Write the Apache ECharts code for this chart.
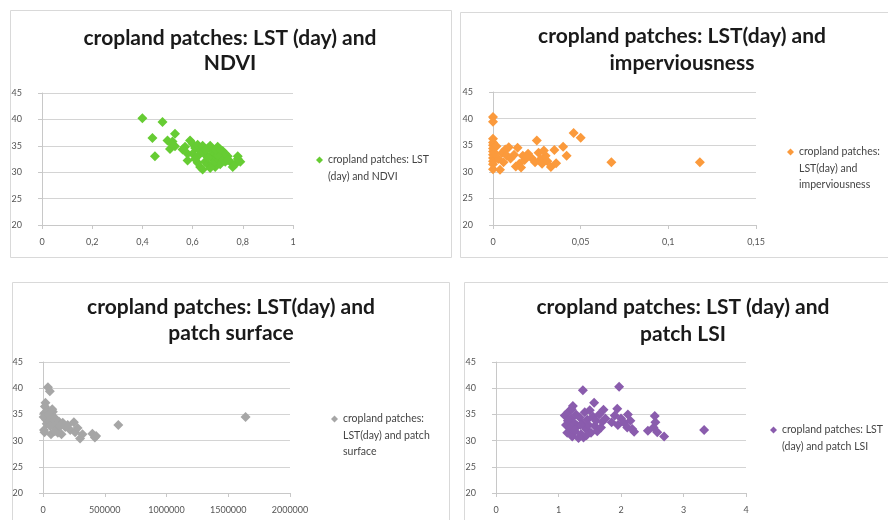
<!DOCTYPE html>
<html>
<head>
<meta charset="utf-8">
<script src="https://cdn.jsdelivr.net/npm/echarts@6/dist/echarts.min.js"></script>
<style>
html,body{margin:0;padding:0;background:#fff;}
#c{width:888px;height:520px;}
</style>
</head>
<body>
<div id="c"></div>
<script>
// ---- Data ----
const titles = [
  ['cropland patches: LST (day) and', 'NDVI'],
  ['cropland patches: LST(day) and', 'imperviousness'],
  ['cropland patches: LST(day) and', 'patch surface'],
  ['cropland patches: LST (day) and', 'patch LSI']
];
const seriesNames = [
  'cropland patches: LST (day) and NDVI',
  'cropland patches: LST(day) and imperviousness',
  'cropland patches: LST(day) and patch surface',
  'cropland patches: LST (day) and patch LSI'
];
const legendLines = [
  ['cropland patches: LST', '(day) and NDVI'],
  ['cropland patches:', 'LST(day) and', 'imperviousness'],
  ['cropland patches:', 'LST(day) and patch', 'surface'],
  ['cropland patches: LST', '(day) and patch LSI']
];
const yTicks = [20, 25, 30, 35, 40, 45];
const xTicks1 = [0, 0.2, 0.4, 0.6, 0.8, 1];
const xTicks2 = [0, 0.05, 0.1, 0.15];
const xTicks3 = [0, 500000, 1000000, 1500000, 2000000];
const xTicks4 = [0, 1, 2, 3, 4];

const ndviData = [
  [0.40,40.2],[0.48,39.5],[0.44,36.5],[0.45,33.0],[0.53,37.3],[0.50,36.0],[0.52,35.8],[0.51,34.4],[0.53,34.9],[0.52,35.2],
  [0.57,34.8],[0.58,32.2],[0.59,36.0],[0.60,35.4],[0.61,34.6],[0.62,35.2],[0.60,33.5],[0.62,33.0],[0.63,34.0],[0.64,35.0],
  [0.63,31.0],[0.64,30.5],[0.65,32.0],[0.65,33.5],[0.66,34.5],[0.66,31.5],[0.67,33.0],[0.67,35.0],[0.68,32.5],[0.68,34.0],
  [0.69,31.0],[0.69,33.5],[0.70,34.8],[0.70,32.0],[0.71,33.0],[0.71,31.5],[0.72,34.0],[0.72,32.5],[0.73,33.5],[0.73,32.0],
  [0.74,33.0],[0.75,32.0],[0.76,31.0],[0.77,31.5],[0.78,33.0],[0.79,32.0],[0.78,32.5],[0.64,33.8],[0.66,32.8],[0.70,33.2],
  [0.62,31.8],[0.58,33.5],[0.56,34.3],[0.74,32.3],[0.68,31.6],[0.65,34.2],[0.61,32.5],[0.69,34.2],[0.71,34.3],[0.67,30.8]
];
const impData = [
  [0,40.3],[0,39.4],[0,36.2],[0,35.5],[0,35.0],[0,34.4],[0,33.8],[0,33.2],[0,32.6],[0,32.0],[0,31.4],[0,30.5],
  [0.002,34.8],[0.003,32.4],[0.004,30.4],[0.005,33.5],[0.006,31.8],[0.007,34.2],[0.008,33.0],[0.009,34.6],[0.010,32.5],
  [0.012,33.2],[0.014,34.5],[0.015,31.5],[0.016,30.8],[0.017,33.0],[0.018,32.2],[0.020,33.4],[0.022,32.6],[0.024,31.8],
  [0.025,35.9],[0.026,33.6],[0.027,32.3],[0.028,31.5],[0.030,33.0],[0.031,32.0],[0.033,30.9],[0.035,34.1],[0.036,31.6],
  [0.040,34.7],[0.042,33.0],[0.046,37.3],[0.050,36.4],[0.0675,31.8],[0.118,31.8],[0.001,33.5],[0.013,31.0],[0.019,32.8],[0.029,34.0]
];
const surfData = [
  [40000,40.2],[55000,39.4],[20000,37.2],[15000,36.5],[10000,35.2],[5000,34.5],[25000,34.0],[30000,33.2],[8000,32.0],[12000,31.6],
  [35000,35.8],[45000,35.0],[50000,33.8],[60000,32.8],[65000,31.2],[70000,34.4],[80000,35.5],[90000,33.0],[100000,34.2],[110000,32.2],
  [120000,31.5],[130000,33.6],[140000,32.8],[150000,31.2],[160000,33.4],[180000,32.6],[200000,33.0],[220000,32.0],[250000,33.5],[260000,31.6],
  [280000,32.4],[300000,30.4],[320000,31.2],[400000,31.3],[420000,30.6],[430000,30.9],[610000,33.0],[1640000,34.5],[75000,36.0],[95000,31.8]
];
const lsiData = [
  [1.39,39.6],[1.97,40.3],[1.23,36.6],[1.57,37.2],[1.72,35.9],[1.94,36.1],[2.11,35.0],[2.54,34.7],[2.69,30.8],[3.33,32.0],[2.43,31.9],[2.21,31.7],
  [1.10,34.8],[1.12,33.0],[1.14,31.5],[1.16,35.5],[1.18,32.5],[1.20,34.2],[1.22,30.8],[1.24,33.5],[1.26,31.8],[1.28,35.0],[1.30,32.8],[1.32,30.5],
  [1.34,34.4],[1.36,31.2],[1.38,33.2],[1.40,30.6],[1.42,35.4],[1.44,32.2],[1.46,34.0],[1.48,33.0],[1.50,35.8],[1.52,31.5],[1.55,34.6],[1.58,32.8],
  [1.60,33.8],[1.62,31.8],[1.65,35.0],[1.68,32.5],[1.70,33.6],[1.75,34.2],[1.85,33.5],[1.90,34.8],[1.95,33.0],[2.00,34.2],[2.05,33.4],[2.10,32.5],[2.15,33.8],[2.18,32.2],
  [2.52,32.5],[2.55,33.5],[2.58,31.6],[1.15,33.8],[1.25,32.0],[1.35,33.0],[1.45,31.0],[1.21,36.0]
];
const colors = ['#66cc33', '#fb9a3c', '#a6a6a6', '#8a5cad'];

// ---- Layout ----
const grids = [
  {left: 42, top: 93, width: 251, height: 132},
  {left: 493, top: 92, width: 263, height: 133},
  {left: 43, top: 362, width: 247, height: 131},
  {left: 496, top: 362, width: 250, height: 131}
];
const panels = [
  {x: 10, y: 10, w: 441, h: 247},
  {x: 460, y: 12, w: 440, h: 245},
  {x: 12, y: 282, w: 437, h: 260},
  {x: 464, y: 282, w: 440, h: 260}
];
const titlePos = [
  {cx: 230, y1: 38, y2: 63},
  {cx: 682, y1: 36, y2: 63},
  {cx: 231, y1: 307, y2: 333},
  {cx: 683, y1: 307, y2: 334}
];
// icon left x and icon centre y
const legendPos = [
  {x: 316, y: 160},
  {x: 787, y: 152},
  {x: 331, y: 419},
  {x: 770, y: 430}
];
const LH = 16.5;
const xTickSets = [xTicks1, xTicks2, xTicks3, xTicks4];
const datasets = [ndviData, impData, surfData, lsiData];

const comma = v => String(v).replace('.', ',');

const option = {
  animation: false,
  backgroundColor: '#ffffff',
  grid: grids,
  xAxis: grids.map((g, i) => {
    const t = xTickSets[i];
    return {
      type: 'value', gridIndex: i,
      min: t[0], max: t[t.length - 1], interval: t[1] - t[0],
      splitLine: {show: false},
      axisLine: {show: true, onZero: false, lineStyle: {color: '#c8c8c8', width: 1}},
      axisTick: {show: true, length: 4, lineStyle: {color: '#c8c8c8'}},
      axisLabel: {fontSize: 9, color: '#555', margin: 13, fontFamily: 'Lato',
        formatter: v => comma(Math.round(v * 1000) / 1000)}
    };
  }),
  yAxis: grids.map((g, i) => ({
    type: 'value', gridIndex: i,
    min: yTicks[0], max: yTicks[yTicks.length - 1], interval: yTicks[1] - yTicks[0],
    splitLine: {show: true, lineStyle: {color: '#d4d4d4', width: 1}},
    axisLine: {show: true, lineStyle: {color: '#c8c8c8', width: 1}},
    axisTick: {show: true, length: 4, lineStyle: {color: '#c8c8c8'}},
    axisLabel: {fontSize: 9, color: '#555', margin: 20, fontFamily: 'Lato'}
  })),
  legend: legendPos.map((p, i) => {
    const n = legendLines[i].length;
    // blank lines before the text keep the marker level with the first line
    const blank = new Array(n - 1).fill(' ');
    return {
      data: [seriesNames[i]],
      left: p.x, top: p.y - (2 * n - 1) * LH / 2,
      orient: 'vertical',
      icon: 'diamond', itemWidth: 7, itemHeight: 7,
      padding: 0,
      textStyle: {fontSize: 10.5, color: '#444', fontFamily: 'Lato', lineHeight: LH},
      formatter: () => blank.concat(legendLines[i]).join('\n')
    };
  }),
  series: datasets.map((d, i) => ({
    type: 'scatter', name: seriesNames[i],
    xAxisIndex: i, yAxisIndex: i,
    data: d,
    symbol: 'diamond', symbolSize: [10, 10],
    itemStyle: {color: colors[i], opacity: 1}
  })),
  graphic: [].concat(
    panels.map(p => ({
      type: 'rect', silent: true, z: -10,
      shape: {x: p.x + 0.5, y: p.y + 0.5, width: p.w, height: p.h},
      style: {fill: 'none', stroke: '#d9d9d9', lineWidth: 1}
    })),
    titlePos.map((t, i) => ({
      type: 'text', silent: true,
      x: t.cx, y: t.y1,
      style: {text: titles[i][0], align: 'center', verticalAlign: 'middle',
        font: 'bold 21px Lato', fill: '#1a1a1a'}
    })),
    titlePos.map((t, i) => ({
      type: 'text', silent: true,
      x: t.cx, y: t.y2,
      style: {text: titles[i][1], align: 'center', verticalAlign: 'middle',
        font: 'bold 21px Lato', fill: '#1a1a1a'}
    }))
  )
};

const chart = echarts.init(document.getElementById('c'), null, {renderer: 'canvas'});
chart.setOption(option);
</script>
</body>
</html>
